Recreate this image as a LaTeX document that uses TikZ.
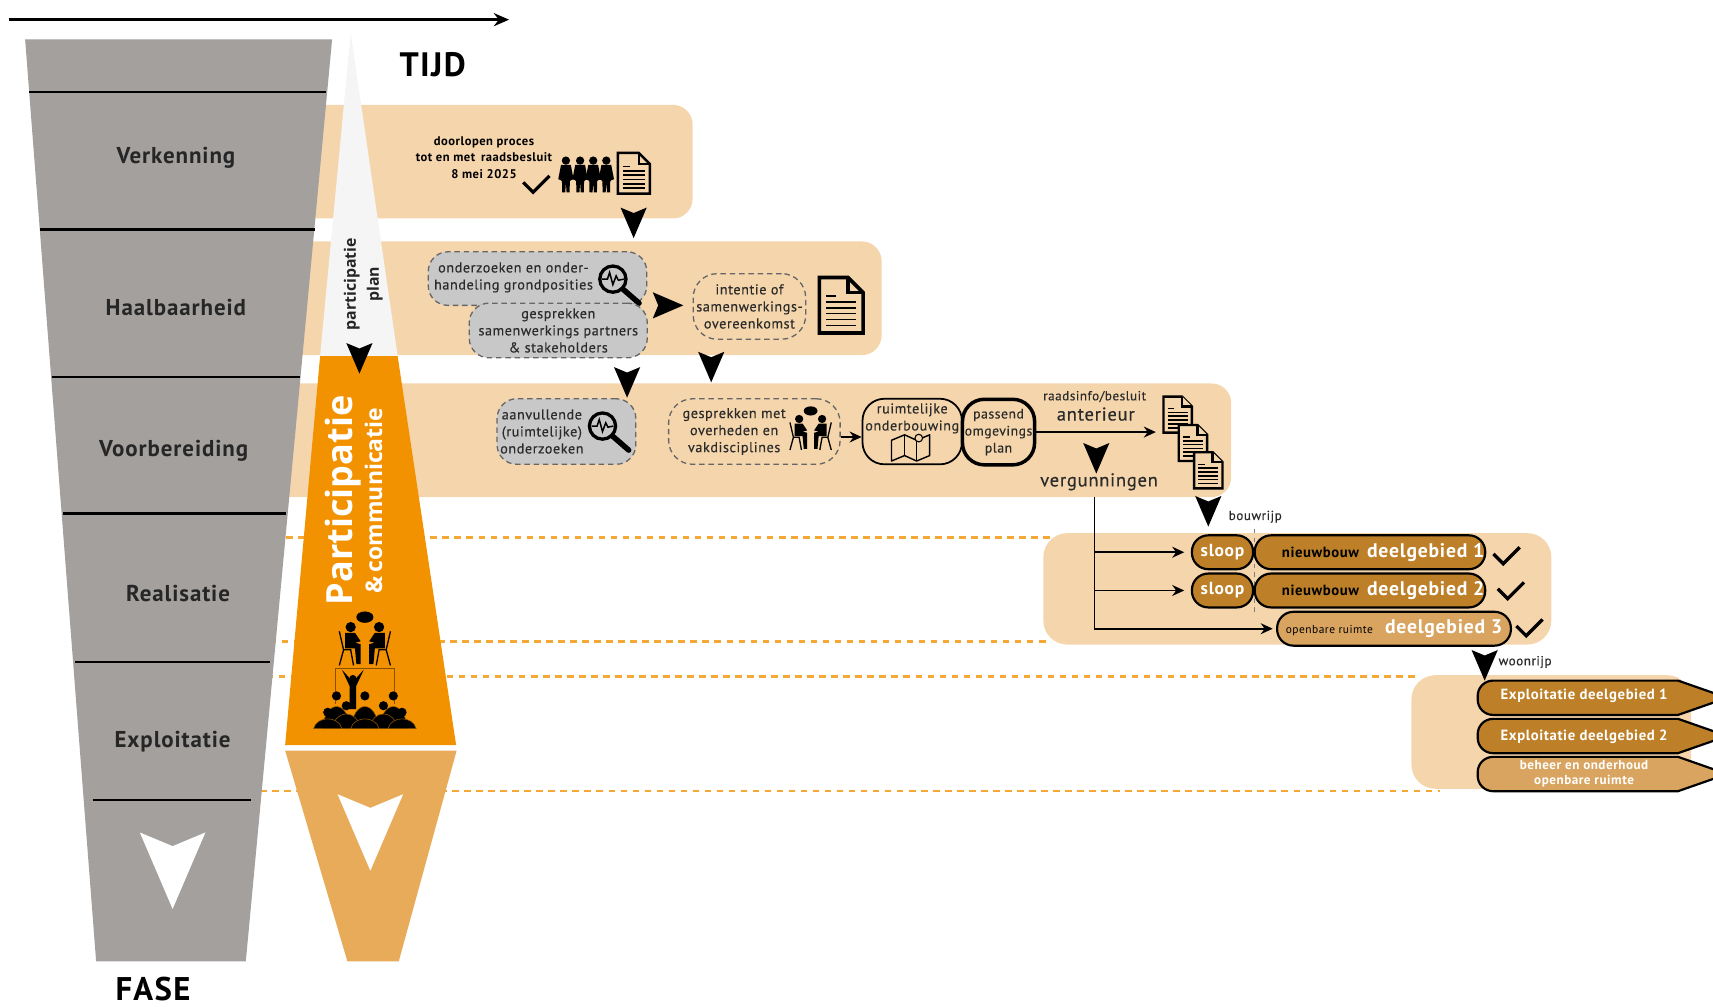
\documentclass[tikz,border=0pt]{standalone}
\usepackage{fontspec}
\setmainfont[LetterSpace=4]{PT Sans}
\newfontfamily\headfont{Open Sans}
\newfontfamily\midfont[LetterSpace=4,FakeBold=0.35]{PT Sans}
\usetikzlibrary{arrows.meta}
\definecolor{funnelgrey}{HTML}{A3A09E}
\definecolor{partorange}{HTML}{F39200}
\definecolor{partlight}{HTML}{E8AB5A}
\definecolor{bandpeach}{HTML}{F5D5AC}
\definecolor{boxgrey}{HTML}{C8C8C8}
\definecolor{bronze}{HTML}{BD8028}
\definecolor{bronzelight}{HTML}{D9A45F}
\definecolor{inktext}{HTML}{2B2B2B}
\newcommand{\fsz}[2]{\fontsize{#1}{#2}\selectfont}
\tikzset{
    band/.style={fill=bandpeach,rounded corners=18pt},
    phaseline/.style={line width=2.2pt},
    phaselabel/.style={inner sep=0,anchor=base,font=\fsz{21}{24}\bfseries,text=black!85},
    txt/.style={inner sep=0,align=center,text=inktext,font=\midfont\fsz{13}{15.6}},
    boldtxt/.style={inner sep=0,align=center,text=black,font=\fsz{11.5}{15}\bfseries},
    timeline/.style={line width=2.4pt,dash pattern=on 6pt off 5pt,draw=partorange!80},
    greybox/.style={draw=black!60,fill=boxgrey,line width=1.2pt,dash pattern=on 5pt off 3.5pt,rounded corners=18pt,inner sep=0},
    openbox/.style={draw=black!60,line width=1.2pt,dash pattern=on 5pt off 3.5pt,rounded corners=22pt,inner sep=0},
    solidbox/.style={draw=black,rounded corners=20pt,inner sep=0},
    pill/.style={draw=black,line width=2pt,fill=bronze,rounded corners=15pt,inner sep=0,minimum height=31pt,text=white,font=\fsz{16}{18}\bfseries},
    flow/.style={line width=1.5pt,-{Stealth[length=11pt,width=10pt]}},
    dart/.pic={\fill[pic actions] (-12,0) -- (0,5) -- (12,0) -- (0,28) -- cycle;},
    tick/.pic={\draw[line width=3pt] (-9,-9) -- (0,0) -- (15,-15);},
    doc/.pic={
        \draw[pic actions] (0,0) -- (17,0) -- (26,9) -- (26,33) -- (0,33) -- cycle;
        \draw[pic actions] (17,0) -- (17,9) -- (26,9);
        \draw[line width=1.2pt] (4,11) -- (10,11);
        \foreach \yy in {14.5,18,21.5,25,28.5} \draw[line width=1.5pt] (4,\yy) -- (22,\yy);
    },
    loupe/.pic={
        \draw[line width=3pt] (0,0) circle (12);
        \draw[line width=5pt,line cap=round] (9,9) -- (24,22);
        \draw[line width=1.4pt] (-10,0) -- (-5,0) -- (-3,-6) -- (0,5) -- (3,-3) -- (5,1) -- (10,0);
    },
    person/.pic={
        \fill (0,-29) circle (3.8);
        \fill (-4.5,-25) -- (4.5,-25) -- (7,-12) -- (4.5,-11) -- (3.6,-10) -- (3.4,0) -- (0.6,0) -- (0,-9) -- (-0.6,0) -- (-3.4,0) -- (-3.6,-10) -- (-4.5,-11) -- (-7,-12) -- cycle;
    },
    meeting/.pic={
        \fill (0,-17) ellipse (6 and 4);
        \foreach \sx in {1,-1}{
            \begin{scope}[xscale=\sx]
                \fill (-10,-10) circle (3.6);
                \fill (-14,-6) -- (-7,-6) -- (-3,0) -- (-7,1) -- (-3,2) -- (-3,16) -- (-6,16) -- (-7,5) -- (-14,5) -- cycle;
                \draw[line width=1.2pt] (-18,-7) -- (-15,6) -- (-18,17);
                \draw[line width=1.2pt] (-15,6) -- (-10,6) -- (-8,17);
            \end{scope}
        }
    },
    audience/.pic={
        \draw[line width=1pt,draw=black!45!partorange] (-27,7) -- (-27,-25) -- (27,-25) -- (27,7);
        \fill (-11,-16) circle (3.2);
        \fill (-21,-24) -- (-11,-13) -- (-1,-24) -- (-8,-9) -- (-8,12) -- (-14,12) -- (-14,-9) -- cycle;
        \foreach \hx/\hy in {-26/0,0/0,26/0,-17/9,17/9,-34/15,0/15,34/15}{
            \fill[draw=partorange!60!black,line width=0.5pt] (\hx-13,30) .. controls (\hx-10,\hy+3) and (\hx+10,\hy+3) .. (\hx+13,30) -- cycle;
            \fill (\hx,\hy) circle (4.2);
        }
    },
    foldmap/.pic={
        \draw[line width=1.3pt,line join=round] (0,5) -- (12,0) -- (23,5) -- (35,0) -- (35,19) -- (23,24) -- (12,19) -- (0,24) -- cycle;
        \draw[line width=1.3pt] (12,0) -- (12,19) (23,5) -- (23,24);
        \draw[line width=1pt,fill=bandpeach] (25,3) circle (3.5);
    }
}
\begin{document}
\begin{tikzpicture}[x=1pt,y=-1pt]
    \useasboundingbox (0,0) rectangle (1568,920.9);
    % banden
    \fill[band] (250,96) rectangle (634,200);
    \fill[band] (250,221) rectangle (807,325);
    \fill[band] (250,351) rectangle (1127,455);
    \fill[band,rounded corners=22pt] (955,488) rectangle (1420,590);
    \fill[band,rounded corners=22pt] (1292,618) rectangle (1548,722);
    \draw[timeline] (262,492) -- (962,492);
    \draw[timeline] (247,587) -- (960,587);
    \draw[timeline] (244,619) -- (1296,619);
    \draw[timeline] (238,724) -- (1318,724);
    % fase
    \fill[funnelgrey] (23,36) -- (304,36) -- (225,880) -- (88,880) -- cycle;
    \draw[phaseline] (27,84) -- (298,84);
    \draw[phaseline] (37,210) -- (288,210);
    \draw[phaseline] (48,345) -- (275,345);
    \draw[phaseline] (58,470) -- (262,470);
    \draw[phaseline] (69,606) -- (247,606);
    \draw[phaseline] (85,732) -- (230,732);
    \node[phaselabel] (verkenning) at (161,150) {Verkenning};
    \node[phaselabel] (haalbaarheid) at (161,289) {Haalbaarheid};
    \node[phaselabel] (voorbereiding) at (159,418) {Voorbereiding};
    \node[phaselabel] (realisatie) at (163,551) {Realisatie};
    \node[phaselabel] (exploitatie) at (158,684) {Exploitatie};
    \node[inner sep=0,font=\fsz{30}{32}\bfseries] (fase) at (140,905) {FASE};
    \pic[scale=2.5,fill=white] at (158,762) {dart};
    % tijd
    \coordinate (tstart) at (8,18);
    \coordinate (tend) at (466,18);
    \draw[line width=2.2pt,-{Stealth[length=14pt,width=12pt]}] (tstart) -- (tend);
    \node[inner sep=0,font=\fsz{31}{33}\bfseries] (tijd) at (396,59) {TIJD};
    % participatie
    \fill[black!4] (321,30) -- (364,326) -- (293,326) -- cycle;
    \fill[partorange] (293,326) -- (364,326) -- (417.5,682) -- (261,682) -- cycle;
    \fill[partlight] (261,687) -- (418,687) -- (365,880) -- (318,880) -- cycle;
    \pic[scale=2.5,fill=white] at (339,727) {dart};
    \node[rotate=90,inner sep=0,font=\headfont\fsz{14.5}{16}\bfseries,text=black!85] (partplana) at (322,260) {participatie};
    \node[rotate=90,inner sep=0,font=\headfont\fsz{14.5}{16}\bfseries,text=black!85] (partplanb) at (343,260) {plan};
    \pic at (329,314) {dart};
    \node[rotate=90,inner sep=0,font=\headfont\fsz{33}{36}\bfseries,text=white] (partmain) at (314,458) {Participatie};
    \node[rotate=90,inner sep=0,font=\headfont\fsz{21}{24}\bfseries,text=white] (partsub) at (342,458) {\&\,communicatie};
    \pic[scale=1.3] at (334,587) {meeting};
    \pic at (334,637) {audience};
    % verkenning
    \node[boldtxt] (proces) at (443,144) {doorlopen proces\\tot en met\, raadsbesluit\\8 mei 2025};
    \pic at (488,176) {tick};
    \foreach \px in {518,531,543,555} \pic at (\px,176) {person};
    \pic[scale=1.13,line width=2.2pt] at (565.5,140) {doc};
    \pic at (580,190) {dart};
    % haalbaarheid
    \node[greybox,minimum width=200pt,minimum height=49pt] (onderzoek) at (492,255) {};
    \node[txt] (onderzoektxt) at (470,254) {onderzoeken en onder-\\handeling grondposities};
    \pic at (561,255.5) {loupe};
    \node[greybox,minimum width=163pt,minimum height=50pt,align=center,text=inktext,font=\midfont\fsz{13}{15.6}] (gesprek) at (511,302.5) {gesprekken\\samenwerkings partners\\\& stakeholders};
    \pic[rotate=90] at (597.5,279.5) {dart};
    \node[openbox,minimum width=103pt,minimum height=60pt,align=center,text=inktext,font=\midfont\fsz{13}{15.6}] (intentie) at (686,280.5) {intentie of\\samenwerkings-\\overeenkomst};
    \pic[scale=1.54,line width=3.4pt] at (750,254) {doc};
    \pic at (574,336) {dart};
    \pic at (651,322) {dart};
    % voorbereiding
    \node[greybox,minimum width=127pt,minimum height=60pt] (aanvullend) at (518.5,395) {};
    \node[txt] (aanvullendtxt) at (496,395) {aanvullende\\(ruimtelijke)\\onderzoeken};
    \pic at (551.5,390) {loupe};
    \node[openbox,minimum width=157pt,minimum height=60pt] (overheid) at (690.5,395) {};
    \node[txt] (overheidtxt) at (672,395) {gesprekken met\\overheden en\\vakdisciplines};
    \pic[scale=1.05] at (742,394) {meeting};
    \node[solidbox,line width=1.6pt,minimum width=91pt,minimum height=60pt] (ruimtelijk) at (835,395) {};
    \node[txt] (ruimtelijktxt) at (835,383) {ruimtelijke\\onderbouwing};
    \pic at (816,398) {foldmap};
    \node[solidbox,line width=3.2pt,minimum width=66pt,minimum height=60pt,align=center,text=inktext,font=\midfont\fsz{12.5}{15.6}] (passend) at (914,395.5) {passend\\omgevings\\plan};
    \draw[flow] ([yshift=-5pt]overheid.east) -- ([yshift=-5pt]ruimtelijk.west);
    \coordinate (docin) at (1058,395.5);
    \draw[flow] (passend.east) -- (docin);
    \node[txt,font=\midfont\fsz{12}{14}] (raadsinfo) at (1002,363) {raadsinfo/besluit};
    \node[txt,font=\midfont\fsz{17}{19}] (anterieur) at (1003,379) {anterieur};
    \pic at (1003.5,405.5) {dart};
    \node[txt,font=\midfont\fsz{17}{19}] (vergunning) at (1006,441) {vergunningen};
    \pic[line width=2.2pt,fill=bandpeach] at (1065,363) {doc};
    \pic[line width=2.2pt,fill=bandpeach] at (1079,389) {doc};
    \pic[line width=2.2pt,fill=bandpeach] at (1093,414) {doc};
    % realisatie
    \pic at (1106,454) {dart};
    \node[txt,font=\midfont\fsz{12}{14}] (bouwrijp) at (1149,473) {bouwrijp};
    \draw[line width=0.8pt,draw=black!50,dash pattern=on 4pt off 4pt] (1148,484) -- (1148,560);
    \node[pill,minimum width=56pt] (sloopa) at (1119,505.5) {sloop};
    \node[pill,minimum width=211pt] (nieuwa) at (1254,505.5) {\hspace{24pt}\textcolor{black}{\fsz{13.5}{15}nieuwbouw}\, \fsz{18}{22}deelgebied 1};
    \node[pill,minimum width=56pt] (sloopb) at (1119,540.5) {sloop};
    \node[pill,minimum width=211pt] (nieuwb) at (1254,540.5) {\hspace{24pt}\textcolor{black}{\fsz{13.5}{15}nieuwbouw}\, \fsz{18}{22}deelgebied 2};
    \node[pill,fill=bronzelight,minimum width=214pt] (deelc) at (1276,575.5) {\textcolor{black}{\fsz{10.5}{12}\mdseries openbare ruimte}\hspace{11pt}\fsz{18}{22}deelgebied 3};
    \coordinate (vtop) at (1002,455);
    \draw[flow,shorten >=6pt] (vtop) |- (sloopa.west);
    \draw[flow,shorten >=6pt] (vtop) |- (sloopb.west);
    \draw[flow,shorten >=3pt] (vtop) |- (deelc.west);
    \pic at (1376,516) {tick};
    \pic at (1380,548) {tick};
    \pic at (1397,582) {tick};
    % exploitatie
    \pic at (1359,595) {dart};
    \node[txt,font=\midfont\fsz{12}{14}] (woonrijp) at (1396,606) {woonrijp};
    \foreach \yy/\cc in {623/bronze,658/bronze,692.8/bronzelight}
        \draw[line width=2pt,fill=\cc] (1581,\yy+15.7) -- (1536,\yy) [rounded corners=14pt] -- (1352.6,\yy) -- (1352.6,\yy+31.4) [sharp corners] -- (1536,\yy+31.4) -- cycle;
    \node[boldtxt,text=white,font=\fsz{13.5}{15}\bfseries] (expla) at (1450,637) {Exploitatie deelgebied 1};
    \node[boldtxt,text=white,font=\fsz{13.5}{15}\bfseries] (explb) at (1450,674) {Exploitatie deelgebied 2};
    \node[boldtxt,text=white,font=\fsz{12}{14}\bfseries] (explc) at (1450,708) {beheer en onderhoud\\openbare ruimte};
\end{tikzpicture}
\end{document}
